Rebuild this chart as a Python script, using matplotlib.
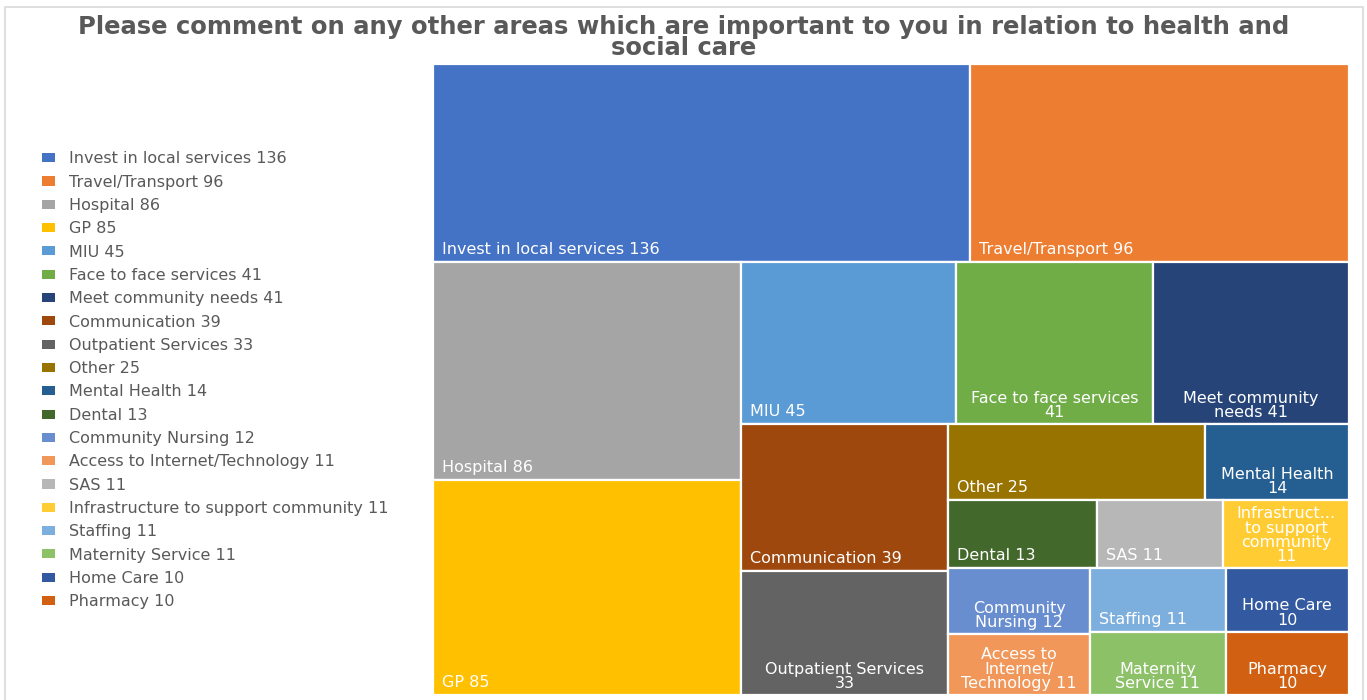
import matplotlib.pyplot as plt
from matplotlib.patches import Rectangle

plt.rcParams["font.family"] = ["DejaVu Sans"]

categories = ["Invest in local services", "Travel/Transport", "Hospital", "GP", "MIU",
              "Face to face services", "Meet community needs", "Communication",
              "Outpatient Services", "Other", "Mental Health", "Dental",
              "Community Nursing", "Access to Internet/Technology", "SAS",
              "Infrastructure to support community", "Staffing", "Maternity Service",
              "Home Care", "Pharmacy"]
counts = [136, 96, 86, 85, 45, 41, 41, 39, 33, 25, 14, 13, 12, 11, 11, 11, 11, 11, 10, 10]
colors = ["#4472C4", "#ED7D31", "#A5A5A5", "#FFC000", "#5B9BD5", "#70AD47",
          "#264478", "#9E480E", "#636363", "#997300", "#255E91", "#43682B",
          "#698ED0", "#F1975A", "#B7B7B7", "#FFCD33", "#7CAFDD", "#8CC168",
          "#335AA1", "#D26012"]

# strips of the treemap: "row" fills across the top, "col" fills down the left side
strips = [
    ("row", ["Invest in local services", "Travel/Transport"]),
    ("col", ["Hospital", "GP"]),
    ("row", ["MIU", "Face to face services", "Meet community needs"]),
    ("col", ["Communication", "Outpatient Services"]),
    ("row", ["Other", "Mental Health"]),
    ("row", ["Dental", "SAS", "Infrastructure to support community"]),
    ("col", ["Community Nursing", "Access to Internet/Technology"]),
    ("col", ["Staffing", "Maternity Service"]),
    ("col", ["Home Care", "Pharmacy"]),
]

# how names are wrapped inside the smaller boxes
box_text = {
    "Face to face services": "Face to face services\n{}",
    "Meet community needs": "Meet community\nneeds {}",
    "Outpatient Services": "Outpatient Services\n{}",
    "Mental Health": "Mental Health\n{}",
    "Infrastructure to support community": "Infrastruct...\nto support\ncommunity\n{}",
    "Community Nursing": "Community\nNursing {}",
    "Access to Internet/Technology": "Access to\nInternet/\nTechnology {}",
    "Maternity Service": "Maternity\nService {}",
    "Home Care": "Home Care\n{}",
    "Pharmacy": "Pharmacy\n{}",
}

title = "Please comment on any other areas which are important to you in relation to health and\nsocial care"
grey = "#595959"
fs = 11.5


def strip_layout(values, W, H):
    """Place each strip along the remaining free rectangle."""
    total = sum(values.values())
    x0, y0, w, h = 0.0, 0.0, W, H
    remaining = total
    rects = {}
    for orient, names in strips:
        s = sum(values[n] for n in names)
        if orient == "row":
            sh = h * s / remaining
            cx = x0
            for n in names:
                bw = w * values[n] / s
                rects[n] = (cx, y0, bw, sh)
                cx += bw
            y0 += sh
            h -= sh
        else:
            sw = w * s / remaining
            cy = y0
            for n in names:
                bh = h * values[n] / s
                rects[n] = (x0, cy, sw, bh)
                cy += bh
            x0 += sw
            w -= sw
        remaining -= s
    return rects


fig = plt.figure(figsize=(13.67, 7), dpi=100)
fig.patches.append(Rectangle((5 / 1367, -0.05), 1358 / 1367, 1.04, transform=fig.transFigure,
                             fill=False, edgecolor="#D9D9D9", linewidth=1.2))

W, H = 916, 631
ax = fig.add_axes([433 / 1367, 5 / 700, W / 1367, H / 700])
ax.set_xlim(0, W)
ax.set_ylim(H, 0)
ax.axis("off")

values = dict(zip(categories, counts))
rects = strip_layout(values, W, H)
handles = []
for name, val, col in zip(categories, counts, colors):
    x, y, w, h = rects[name]
    ax.add_patch(Rectangle((x, y), w, h, facecolor=col, edgecolor="white", linewidth=1.6))
    if name in box_text:
        ax.text(x + w / 2, y + h - 4, box_text[name].format(val), color="white",
                fontsize=fs, ha="center", va="bottom", multialignment="center",
                linespacing=0.95)
    else:
        ax.text(x + 9, y + h - 5, f"{name} {val}", color="white", fontsize=fs,
                ha="left", va="bottom")
    handles.append(Rectangle((0, 0), 1, 1, facecolor=col, label=f"{name} {val}"))

fig.legend(handles=handles, loc="upper left", bbox_to_anchor=(28 / 1367, 1 - 137 / 700),
           frameon=False, fontsize=fs, labelcolor=grey, handlelength=0.82,
           handleheight=0.5, handletextpad=0.85, labelspacing=0.52)

fig.text(0.5, 1 - 15 / 700, title, ha="center", va="top", fontsize=17.5,
         fontweight="bold", color=grey, linespacing=0.86)

fig.savefig("out.png", dpi=100)
